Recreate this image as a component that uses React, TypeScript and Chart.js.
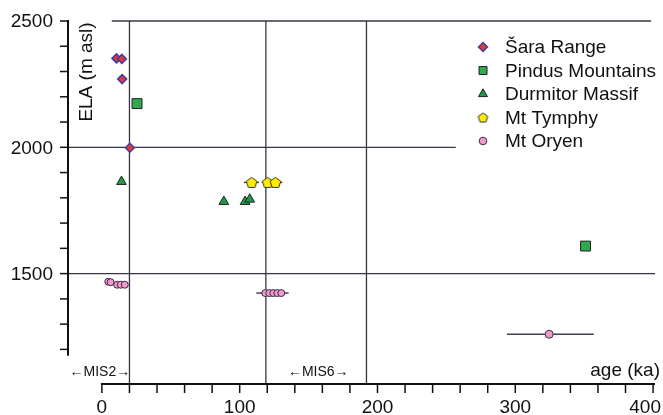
import React, { useEffect, useRef } from 'react';
import { Chart, registerables } from 'chart.js';

Chart.register(...registerables);

// ---- data ----
const seriesNames = ['Šara Range', 'Pindus Mountains', 'Durmitor Massif', 'Mt Tymphy', 'Mt Oryen'];

const saraAge = [10.6, 14.5, 14.7, 20.3];
const saraEla = [2352, 2350, 2270, 1998];

const pindusAge = [25.5, 351];
const pindusEla = [2173, 1609];

const durmitorAge = [14.2, 88.5, 103.9, 107.3];
const durmitorEla = [1864, 1785, 1785, 1794];

const tymphyAge = [108.7, 120.3, 125.9];
const tymphyEla = [1861, 1861, 1861];
const tymphyAgeMin = [103, 116, 121];
const tymphyAgeMax = [114, 125, 131];

const oryenAge = [4.6, 6.3, 11.1, 13.7, 16.6, 118.6, 121.5, 124.4, 127.3, 130.2, 324.6];
const oryenEla = [1468, 1466, 1456, 1456, 1456, 1423, 1423, 1423, 1423, 1423, 1260];
const oryenAgeMin = [null, null, null, null, null, 112, 115, 118, 121, 124, 294];
const oryenAgeMax = [null, null, null, null, null, 125, 128, 131, 133, 135.5, 357];

const xTickLabels = [0, 100, 200, 300, 400];
const xMinorStep = 20;
const yTickLabels = [1500, 2000, 2500];
const yMinorTicks = [1200, 1300, 1400, 1500, 1600, 1700, 1800, 1900, 2000, 2100, 2200, 2300, 2400, 2500];
const misBoundaries = [20, 119, 192];
const misNames = ['MIS2', 'MIS6'];

// ---- styles ----
const FONT = "'Liberation Sans', Arial, Helvetica, sans-serif";
const GRID = '#363644';
const AXIS = '#111111';

function makePentagon(r: number, fill: string, stroke: string): HTMLCanvasElement {
  const size = Math.ceil(r * 2 + 3);
  const c = document.createElement('canvas');
  c.width = size;
  c.height = size;
  const g = c.getContext('2d')!;
  const cx = size / 2;
  const cy = size / 2 + 0.5;
  g.beginPath();
  for (let i = 0; i < 5; i++) {
    const a = -Math.PI / 2 + (i * 2 * Math.PI) / 5;
    const px = cx + r * Math.cos(a);
    const py = cy + r * Math.sin(a);
    if (i === 0) g.moveTo(px, py);
    else g.lineTo(px, py);
  }
  g.closePath();
  g.fillStyle = fill;
  g.fill();
  g.lineWidth = 1;
  g.strokeStyle = stroke;
  g.stroke();
  return c;
}

const pentagon = makePentagon(5.6, '#FFEC00', '#333333');
const pentagonSmall = makePentagon(5, '#FFEC00', '#333333');

const zip = (xs: number[], ys: number[]) => xs.map((x, i) => ({ x, y: ys[i] }));

const decorPlugin = {
  id: 'decor',
  beforeDatasetsDraw(chart: any) {
    const ctx = chart.ctx as CanvasRenderingContext2D;
    const xs = chart.scales.x;
    const ys = chart.scales.y;
    const X = (v: number) => xs.getPixelForValue(v);
    const Y = (v: number) => ys.getPixelForValue(v);
    const axisX = chart.chartArea.left;
    const axisY = chart.chartArea.bottom;
    ctx.save();

    // reference lines
    ctx.strokeStyle = GRID;
    ctx.lineWidth = 1.3;
    const hline = (v: number, a: number, b: number) => {
      ctx.beginPath();
      ctx.moveTo(a, Y(v));
      ctx.lineTo(b, Y(v));
      ctx.stroke();
    };
    hline(2500, X(7.2), X(398.5));
    hline(2000, axisX, X(256.8));
    hline(1500, axisX, X(401.4));
    misBoundaries.forEach((b) => {
      ctx.beginPath();
      ctx.moveTo(X(b), Y(2500));
      ctx.lineTo(X(b), axisY);
      ctx.stroke();
    });

    // y axis
    ctx.strokeStyle = AXIS;
    ctx.lineWidth = 2;
    ctx.beginPath();
    ctx.moveTo(axisX, Y(2500) - 1);
    ctx.lineTo(axisX, Y(1175));
    ctx.stroke();
    ctx.lineWidth = 1.5;
    yMinorTicks.forEach((t) => {
      ctx.beginPath();
      ctx.moveTo(axisX - 8, Y(t));
      ctx.lineTo(axisX, Y(t));
      ctx.stroke();
    });

    // x axis
    ctx.lineWidth = 2;
    ctx.beginPath();
    ctx.moveTo(X(0) - 1, axisY);
    ctx.lineTo(X(401.4), axisY);
    ctx.stroke();
    ctx.lineWidth = 1.5;
    for (let t = 0; t <= 400; t += xMinorStep) {
      ctx.beginPath();
      ctx.moveTo(X(t), axisY);
      ctx.lineTo(X(t), axisY + 9);
      ctx.stroke();
    }

    // error bars
    ctx.strokeStyle = '#3f3f4a';
    ctx.lineWidth = 1.4;
    const bars = (ages: number[], elas: number[], mins: (number | null)[], maxs: (number | null)[]) => {
      ages.forEach((_, i) => {
        const a = mins[i];
        const b = maxs[i];
        if (a == null || b == null) return;
        ctx.beginPath();
        ctx.moveTo(X(a), Y(elas[i]));
        ctx.lineTo(X(b), Y(elas[i]));
        ctx.stroke();
      });
    };
    bars(tymphyAge, tymphyEla, tymphyAgeMin, tymphyAgeMax);
    bars(oryenAge, oryenEla, oryenAgeMin, oryenAgeMax);
    ctx.restore();
  },
  afterDraw(chart: any) {
    const ctx = chart.ctx as CanvasRenderingContext2D;
    const xs = chart.scales.x;
    const ys = chart.scales.y;
    const X = (v: number) => xs.getPixelForValue(v);
    const Y = (v: number) => ys.getPixelForValue(v);
    const axisX = chart.chartArea.left;
    const axisY = chart.chartArea.bottom;
    const W = chart.width;
    ctx.save();
    ctx.fillStyle = '#111';

    // y tick labels
    ctx.font = `19px ${FONT}`;
    ctx.textAlign = 'right';
    ctx.textBaseline = 'middle';
    yTickLabels.forEach((t) => ctx.fillText(String(t), axisX - 15, Y(t) + 1));

    // x tick labels
    ctx.textAlign = 'center';
    ctx.textBaseline = 'top';
    xTickLabels.forEach((t) => {
      const s = String(t);
      const w = ctx.measureText(s).width;
      const cx = Math.min(X(t), W - w / 2 - 2);
      ctx.fillText(s, cx, axisY + 14);
    });

    // axis titles
    ctx.textAlign = 'right';
    ctx.textBaseline = 'middle';
    ctx.fillText('age (ka)', W - 3, axisY - 13);
    ctx.save();
    ctx.translate(axisX + 19, Y(2500) + 51);
    ctx.rotate(-Math.PI / 2);
    ctx.textAlign = 'center';
    ctx.fillText('ELA (m asl)', 0, 0);
    ctx.restore();

    // MIS labels
    ctx.font = `14px ${FONT}`;
    ctx.textAlign = 'center';
    ctx.textBaseline = 'middle';
    const misCenters = [-1.5, 157];
    misNames.forEach((n, i) => ctx.fillText(`←${n}→`, X(misCenters[i]), axisY - 12));

    // legend
    const lx = 483;
    const tx = 505;
    const rows = [47, 70.5, 94, 117.5, 141];
    ctx.font = `19px ${FONT}`;
    ctx.textAlign = 'left';
    ctx.textBaseline = 'middle';
    seriesNames.forEach((name, i) => {
      const y = rows[i];
      ctx.fillStyle = '#111';
      ctx.fillText(name, tx, y + 1);
      ctx.lineWidth = 1;
      ctx.beginPath();
      if (i === 0) {
        const r = 4.5;
        ctx.moveTo(lx - r, y);
        ctx.lineTo(lx, y - r);
        ctx.lineTo(lx + r, y);
        ctx.lineTo(lx, y + r);
        ctx.closePath();
        ctx.fillStyle = '#E8382E';
        ctx.strokeStyle = '#3B3FA8';
        ctx.lineWidth = 1.5;
        ctx.fill();
        ctx.stroke();
      } else if (i === 1) {
        ctx.rect(lx - 4, y - 4, 8, 8);
        ctx.fillStyle = '#2EAA4F';
        ctx.strokeStyle = '#222';
        ctx.fill();
        ctx.stroke();
      } else if (i === 2) {
        const r = 5.2;
        ctx.moveTo(lx, y - r);
        ctx.lineTo(lx + r * 0.866, y + r / 2);
        ctx.lineTo(lx - r * 0.866, y + r / 2);
        ctx.closePath();
        ctx.fillStyle = '#1E9A4A';
        ctx.strokeStyle = '#222';
        ctx.fill();
        ctx.stroke();
      } else if (i === 3) {
        ctx.drawImage(pentagonSmall, lx - pentagonSmall.width / 2, y - pentagonSmall.height / 2);
      } else {
        ctx.arc(lx, y, 3.8, 0, Math.PI * 2);
        ctx.fillStyle = '#F29AC8';
        ctx.strokeStyle = '#3a2a4a';
        ctx.fill();
        ctx.stroke();
      }
    });
    ctx.restore();
  },
};

export default function App() {
  const ref = useRef<HTMLCanvasElement | null>(null);
  useEffect(() => {
    if (!ref.current) return;
    const chart = new Chart(ref.current, {
      type: 'scatter',
      data: {
        datasets: [
          {
            label: seriesNames[4],
            data: zip(oryenAge, oryenEla),
            pointStyle: 'circle',
            pointRadius: (c: any) => (c.dataIndex === oryenAge.length - 1 ? 4 : 3.5),
            backgroundColor: '#F29AC8',
            borderColor: '#3a2a4a',
            borderWidth: 1,
          },
          {
            label: seriesNames[3],
            data: zip(tymphyAge, tymphyEla),
            pointStyle: pentagon as any,
            backgroundColor: '#FFEC00',
            borderColor: '#333',
          },
          {
            label: seriesNames[2],
            data: zip(durmitorAge, durmitorEla),
            pointStyle: 'triangle',
            pointRadius: 5.6,
            backgroundColor: '#1E9A4A',
            borderColor: '#222',
            borderWidth: 1,
          },
          {
            label: seriesNames[1],
            data: zip(pindusAge, pindusEla),
            pointStyle: 'rect',
            pointRadius: 7,
            backgroundColor: '#2EAA4F',
            borderColor: '#222',
            borderWidth: 1,
          },
          {
            label: seriesNames[0],
            data: zip(saraAge, saraEla),
            pointStyle: 'rectRot',
            pointRadius: 4.5,
            backgroundColor: '#E8382E',
            borderColor: '#3B3FA8',
            borderWidth: 1.5,
          },
        ],
      },
      options: {
        responsive: false,
        animation: false,
        devicePixelRatio: 1,
        layout: { padding: { left: 68, right: 6, top: 21, bottom: 31 } },
        scales: {
          x: { type: 'linear', min: -24.6, max: 401.4, display: false },
          y: { type: 'linear', min: 1063, max: 2500, display: false },
        },
        plugins: {
          legend: { display: false },
          tooltip: { enabled: false },
        },
      },
      plugins: [decorPlugin],
    });
    return () => chart.destroy();
  }, []);

  return (
    <div style={{ position: 'absolute', left: 0, top: 0, width: 663, height: 415, background: '#fff' }}>
      <canvas ref={ref} width={663} height={415} style={{ width: 663, height: 415, display: 'block' }} />
    </div>
  );
}
